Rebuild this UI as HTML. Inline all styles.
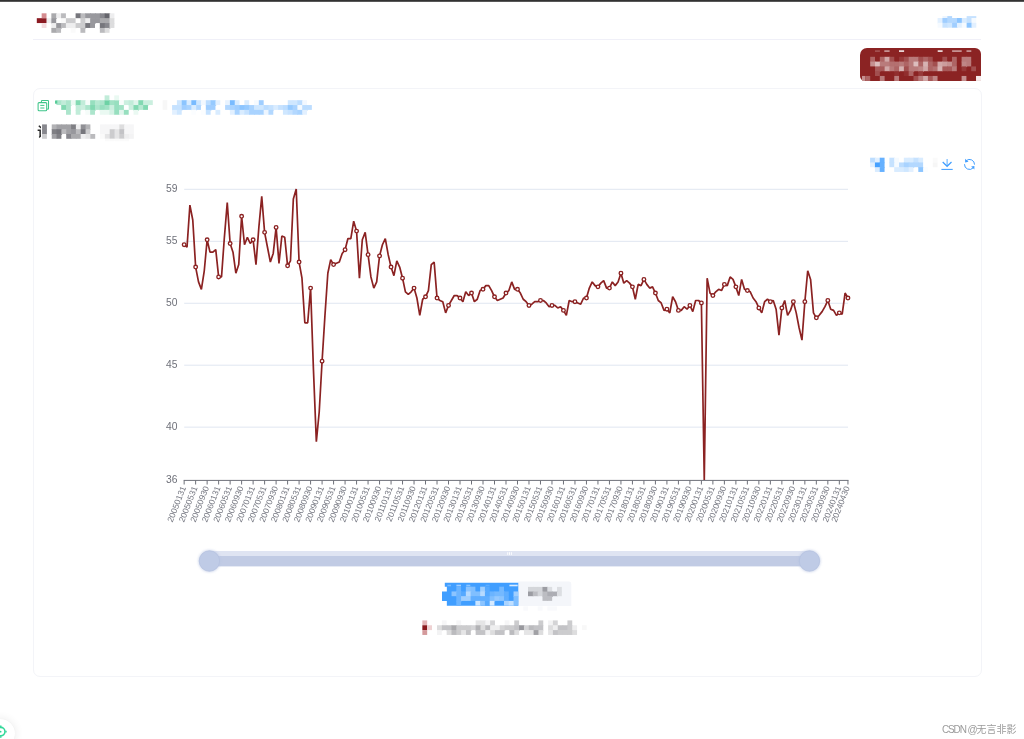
<!DOCTYPE html>
<html lang="zh-CN">
<head>
<meta charset="utf-8">
<title>指标详情</title>
<style>
html,body{margin:0;padding:0;background:#fff;}
body{width:1024px;height:739px;position:relative;overflow:hidden;font-family:"Liberation Sans","Noto Sans CJK SC",sans-serif;}
.hdrline{position:absolute;left:33px;top:39px;width:948px;height:1px;background:#f0f0f8;}
.redbtn{position:absolute;left:860.4px;top:47.6px;width:120.6px;height:33.3px;background:#8b2323;border-radius:7px 6px 0 5px;}
.card{position:absolute;left:33px;top:88px;width:947px;height:587px;border:1px solid #f3f4f8;border-radius:7px;box-sizing:content-box;}
.chart{position:absolute;left:0;top:0;}
.yl{font-family:"Liberation Sans",sans-serif;font-size:10.3px;fill:#6e7079;}
.xl{font-family:"Liberation Sans",sans-serif;font-size:8.5px;fill:#767882;}

.topbar{position:absolute;left:0;top:0;width:1024px;height:2px;background:linear-gradient(#2c2c2c 0,#3a3a3a 60%,#8a8a8a 100%);}
.xiang{position:absolute;left:37.2px;top:124px;width:3.4px;height:16px;overflow:hidden;font-size:13px;line-height:16px;font-weight:bold;color:#2a2a2a;white-space:nowrap;}
.fab{position:absolute;left:-14.5px;top:718.6px;width:29.6px;height:29.6px;border-radius:50%;background:#fff;box-shadow:0 0 8px 1px rgba(0,0,0,.07),0 0 1px rgba(0,0,0,.06);}
.wm{position:absolute;right:7.6px;top:724.2px;font-size:10px;line-height:12px;color:#9b9b9b;white-space:nowrap;text-shadow:0 0 1px #fff;}
.wm b{font-weight:normal;font-size:10px;letter-spacing:-1.15px;}
</style>
</head>
<body>
<div class="topbar"></div>
<div class="hdrline"></div>
<div class="redbtn"></div>
<div class="card"></div>
<svg class="chart" width="1024" height="739" viewBox="0 0 1024 739">
<line x1="184.2" x2="848.0" y1="189.30" y2="189.30" stroke="#e0e6f1" stroke-width="1"/>
<line x1="184.2" x2="848.0" y1="241.33" y2="241.33" stroke="#e0e6f1" stroke-width="1"/>
<line x1="184.2" x2="848.0" y1="303.26" y2="303.26" stroke="#e0e6f1" stroke-width="1"/>
<line x1="184.2" x2="848.0" y1="365.20" y2="365.20" stroke="#e0e6f1" stroke-width="1"/>
<line x1="184.2" x2="848.0" y1="427.13" y2="427.13" stroke="#e0e6f1" stroke-width="1"/>
<text x="177.5" y="192.00" text-anchor="end" class="yl">59</text>
<text x="177.5" y="244.03" text-anchor="end" class="yl">55</text>
<text x="177.5" y="305.96" text-anchor="end" class="yl">50</text>
<text x="177.5" y="367.90" text-anchor="end" class="yl">45</text>
<text x="177.5" y="429.83" text-anchor="end" class="yl">40</text>
<text x="177.5" y="483.10" text-anchor="end" class="yl">36</text>
<line x1="183.7" x2="848.5" y1="480.40" y2="480.40" stroke="#6e7079" stroke-width="1"/>
<line x1="184.15" x2="184.15" y1="480.40" y2="484.50" stroke="#6e7079" stroke-width="1"/>
<line x1="195.64" x2="195.64" y1="480.40" y2="484.50" stroke="#6e7079" stroke-width="1"/>
<line x1="207.14" x2="207.14" y1="480.40" y2="484.50" stroke="#6e7079" stroke-width="1"/>
<line x1="218.63" x2="218.63" y1="480.40" y2="484.50" stroke="#6e7079" stroke-width="1"/>
<line x1="230.13" x2="230.13" y1="480.40" y2="484.50" stroke="#6e7079" stroke-width="1"/>
<line x1="241.62" x2="241.62" y1="480.40" y2="484.50" stroke="#6e7079" stroke-width="1"/>
<line x1="253.12" x2="253.12" y1="480.40" y2="484.50" stroke="#6e7079" stroke-width="1"/>
<line x1="264.61" x2="264.61" y1="480.40" y2="484.50" stroke="#6e7079" stroke-width="1"/>
<line x1="276.10" x2="276.10" y1="480.40" y2="484.50" stroke="#6e7079" stroke-width="1"/>
<line x1="287.60" x2="287.60" y1="480.40" y2="484.50" stroke="#6e7079" stroke-width="1"/>
<line x1="299.09" x2="299.09" y1="480.40" y2="484.50" stroke="#6e7079" stroke-width="1"/>
<line x1="310.59" x2="310.59" y1="480.40" y2="484.50" stroke="#6e7079" stroke-width="1"/>
<line x1="322.08" x2="322.08" y1="480.40" y2="484.50" stroke="#6e7079" stroke-width="1"/>
<line x1="333.58" x2="333.58" y1="480.40" y2="484.50" stroke="#6e7079" stroke-width="1"/>
<line x1="345.07" x2="345.07" y1="480.40" y2="484.50" stroke="#6e7079" stroke-width="1"/>
<line x1="356.57" x2="356.57" y1="480.40" y2="484.50" stroke="#6e7079" stroke-width="1"/>
<line x1="368.06" x2="368.06" y1="480.40" y2="484.50" stroke="#6e7079" stroke-width="1"/>
<line x1="379.55" x2="379.55" y1="480.40" y2="484.50" stroke="#6e7079" stroke-width="1"/>
<line x1="391.05" x2="391.05" y1="480.40" y2="484.50" stroke="#6e7079" stroke-width="1"/>
<line x1="402.54" x2="402.54" y1="480.40" y2="484.50" stroke="#6e7079" stroke-width="1"/>
<line x1="414.04" x2="414.04" y1="480.40" y2="484.50" stroke="#6e7079" stroke-width="1"/>
<line x1="425.53" x2="425.53" y1="480.40" y2="484.50" stroke="#6e7079" stroke-width="1"/>
<line x1="437.03" x2="437.03" y1="480.40" y2="484.50" stroke="#6e7079" stroke-width="1"/>
<line x1="448.52" x2="448.52" y1="480.40" y2="484.50" stroke="#6e7079" stroke-width="1"/>
<line x1="460.01" x2="460.01" y1="480.40" y2="484.50" stroke="#6e7079" stroke-width="1"/>
<line x1="471.51" x2="471.51" y1="480.40" y2="484.50" stroke="#6e7079" stroke-width="1"/>
<line x1="483.00" x2="483.00" y1="480.40" y2="484.50" stroke="#6e7079" stroke-width="1"/>
<line x1="494.50" x2="494.50" y1="480.40" y2="484.50" stroke="#6e7079" stroke-width="1"/>
<line x1="505.99" x2="505.99" y1="480.40" y2="484.50" stroke="#6e7079" stroke-width="1"/>
<line x1="517.49" x2="517.49" y1="480.40" y2="484.50" stroke="#6e7079" stroke-width="1"/>
<line x1="528.98" x2="528.98" y1="480.40" y2="484.50" stroke="#6e7079" stroke-width="1"/>
<line x1="540.48" x2="540.48" y1="480.40" y2="484.50" stroke="#6e7079" stroke-width="1"/>
<line x1="551.97" x2="551.97" y1="480.40" y2="484.50" stroke="#6e7079" stroke-width="1"/>
<line x1="563.46" x2="563.46" y1="480.40" y2="484.50" stroke="#6e7079" stroke-width="1"/>
<line x1="574.96" x2="574.96" y1="480.40" y2="484.50" stroke="#6e7079" stroke-width="1"/>
<line x1="586.45" x2="586.45" y1="480.40" y2="484.50" stroke="#6e7079" stroke-width="1"/>
<line x1="597.95" x2="597.95" y1="480.40" y2="484.50" stroke="#6e7079" stroke-width="1"/>
<line x1="609.44" x2="609.44" y1="480.40" y2="484.50" stroke="#6e7079" stroke-width="1"/>
<line x1="620.94" x2="620.94" y1="480.40" y2="484.50" stroke="#6e7079" stroke-width="1"/>
<line x1="632.43" x2="632.43" y1="480.40" y2="484.50" stroke="#6e7079" stroke-width="1"/>
<line x1="643.92" x2="643.92" y1="480.40" y2="484.50" stroke="#6e7079" stroke-width="1"/>
<line x1="655.42" x2="655.42" y1="480.40" y2="484.50" stroke="#6e7079" stroke-width="1"/>
<line x1="666.91" x2="666.91" y1="480.40" y2="484.50" stroke="#6e7079" stroke-width="1"/>
<line x1="678.41" x2="678.41" y1="480.40" y2="484.50" stroke="#6e7079" stroke-width="1"/>
<line x1="689.90" x2="689.90" y1="480.40" y2="484.50" stroke="#6e7079" stroke-width="1"/>
<line x1="701.40" x2="701.40" y1="480.40" y2="484.50" stroke="#6e7079" stroke-width="1"/>
<line x1="712.89" x2="712.89" y1="480.40" y2="484.50" stroke="#6e7079" stroke-width="1"/>
<line x1="724.39" x2="724.39" y1="480.40" y2="484.50" stroke="#6e7079" stroke-width="1"/>
<line x1="735.88" x2="735.88" y1="480.40" y2="484.50" stroke="#6e7079" stroke-width="1"/>
<line x1="747.37" x2="747.37" y1="480.40" y2="484.50" stroke="#6e7079" stroke-width="1"/>
<line x1="758.87" x2="758.87" y1="480.40" y2="484.50" stroke="#6e7079" stroke-width="1"/>
<line x1="770.36" x2="770.36" y1="480.40" y2="484.50" stroke="#6e7079" stroke-width="1"/>
<line x1="781.86" x2="781.86" y1="480.40" y2="484.50" stroke="#6e7079" stroke-width="1"/>
<line x1="793.35" x2="793.35" y1="480.40" y2="484.50" stroke="#6e7079" stroke-width="1"/>
<line x1="804.85" x2="804.85" y1="480.40" y2="484.50" stroke="#6e7079" stroke-width="1"/>
<line x1="816.34" x2="816.34" y1="480.40" y2="484.50" stroke="#6e7079" stroke-width="1"/>
<line x1="827.83" x2="827.83" y1="480.40" y2="484.50" stroke="#6e7079" stroke-width="1"/>
<line x1="839.33" x2="839.33" y1="480.40" y2="484.50" stroke="#6e7079" stroke-width="1"/>
<line x1="847.95" x2="847.95" y1="480.40" y2="484.50" stroke="#6e7079" stroke-width="1"/>
<text class="xl" text-anchor="end" transform="translate(183.35 486.40) rotate(-69)" x="0" y="3">20050131</text>
<text class="xl" text-anchor="end" transform="translate(194.84 486.40) rotate(-69)" x="0" y="3">20050531</text>
<text class="xl" text-anchor="end" transform="translate(206.34 486.40) rotate(-69)" x="0" y="3">20050930</text>
<text class="xl" text-anchor="end" transform="translate(217.83 486.40) rotate(-69)" x="0" y="3">20060131</text>
<text class="xl" text-anchor="end" transform="translate(229.33 486.40) rotate(-69)" x="0" y="3">20060531</text>
<text class="xl" text-anchor="end" transform="translate(240.82 486.40) rotate(-69)" x="0" y="3">20060930</text>
<text class="xl" text-anchor="end" transform="translate(252.32 486.40) rotate(-69)" x="0" y="3">20070131</text>
<text class="xl" text-anchor="end" transform="translate(263.81 486.40) rotate(-69)" x="0" y="3">20070531</text>
<text class="xl" text-anchor="end" transform="translate(275.30 486.40) rotate(-69)" x="0" y="3">20070930</text>
<text class="xl" text-anchor="end" transform="translate(286.80 486.40) rotate(-69)" x="0" y="3">20080131</text>
<text class="xl" text-anchor="end" transform="translate(298.29 486.40) rotate(-69)" x="0" y="3">20080531</text>
<text class="xl" text-anchor="end" transform="translate(309.79 486.40) rotate(-69)" x="0" y="3">20080930</text>
<text class="xl" text-anchor="end" transform="translate(321.28 486.40) rotate(-69)" x="0" y="3">20090131</text>
<text class="xl" text-anchor="end" transform="translate(332.78 486.40) rotate(-69)" x="0" y="3">20090531</text>
<text class="xl" text-anchor="end" transform="translate(344.27 486.40) rotate(-69)" x="0" y="3">20090930</text>
<text class="xl" text-anchor="end" transform="translate(355.77 486.40) rotate(-69)" x="0" y="3">20100131</text>
<text class="xl" text-anchor="end" transform="translate(367.26 486.40) rotate(-69)" x="0" y="3">20100531</text>
<text class="xl" text-anchor="end" transform="translate(378.75 486.40) rotate(-69)" x="0" y="3">20100930</text>
<text class="xl" text-anchor="end" transform="translate(390.25 486.40) rotate(-69)" x="0" y="3">20110131</text>
<text class="xl" text-anchor="end" transform="translate(401.74 486.40) rotate(-69)" x="0" y="3">20110531</text>
<text class="xl" text-anchor="end" transform="translate(413.24 486.40) rotate(-69)" x="0" y="3">20110930</text>
<text class="xl" text-anchor="end" transform="translate(424.73 486.40) rotate(-69)" x="0" y="3">20120131</text>
<text class="xl" text-anchor="end" transform="translate(436.23 486.40) rotate(-69)" x="0" y="3">20120531</text>
<text class="xl" text-anchor="end" transform="translate(447.72 486.40) rotate(-69)" x="0" y="3">20120930</text>
<text class="xl" text-anchor="end" transform="translate(459.21 486.40) rotate(-69)" x="0" y="3">20130131</text>
<text class="xl" text-anchor="end" transform="translate(470.71 486.40) rotate(-69)" x="0" y="3">20130531</text>
<text class="xl" text-anchor="end" transform="translate(482.20 486.40) rotate(-69)" x="0" y="3">20130930</text>
<text class="xl" text-anchor="end" transform="translate(493.70 486.40) rotate(-69)" x="0" y="3">20140131</text>
<text class="xl" text-anchor="end" transform="translate(505.19 486.40) rotate(-69)" x="0" y="3">20140531</text>
<text class="xl" text-anchor="end" transform="translate(516.69 486.40) rotate(-69)" x="0" y="3">20140930</text>
<text class="xl" text-anchor="end" transform="translate(528.18 486.40) rotate(-69)" x="0" y="3">20150131</text>
<text class="xl" text-anchor="end" transform="translate(539.68 486.40) rotate(-69)" x="0" y="3">20150531</text>
<text class="xl" text-anchor="end" transform="translate(551.17 486.40) rotate(-69)" x="0" y="3">20150930</text>
<text class="xl" text-anchor="end" transform="translate(562.66 486.40) rotate(-69)" x="0" y="3">20160131</text>
<text class="xl" text-anchor="end" transform="translate(574.16 486.40) rotate(-69)" x="0" y="3">20160531</text>
<text class="xl" text-anchor="end" transform="translate(585.65 486.40) rotate(-69)" x="0" y="3">20160930</text>
<text class="xl" text-anchor="end" transform="translate(597.15 486.40) rotate(-69)" x="0" y="3">20170131</text>
<text class="xl" text-anchor="end" transform="translate(608.64 486.40) rotate(-69)" x="0" y="3">20170531</text>
<text class="xl" text-anchor="end" transform="translate(620.14 486.40) rotate(-69)" x="0" y="3">20170930</text>
<text class="xl" text-anchor="end" transform="translate(631.63 486.40) rotate(-69)" x="0" y="3">20180131</text>
<text class="xl" text-anchor="end" transform="translate(643.12 486.40) rotate(-69)" x="0" y="3">20180531</text>
<text class="xl" text-anchor="end" transform="translate(654.62 486.40) rotate(-69)" x="0" y="3">20180930</text>
<text class="xl" text-anchor="end" transform="translate(666.11 486.40) rotate(-69)" x="0" y="3">20190131</text>
<text class="xl" text-anchor="end" transform="translate(677.61 486.40) rotate(-69)" x="0" y="3">20190531</text>
<text class="xl" text-anchor="end" transform="translate(689.10 486.40) rotate(-69)" x="0" y="3">20190930</text>
<text class="xl" text-anchor="end" transform="translate(700.60 486.40) rotate(-69)" x="0" y="3">20200131</text>
<text class="xl" text-anchor="end" transform="translate(712.09 486.40) rotate(-69)" x="0" y="3">20200531</text>
<text class="xl" text-anchor="end" transform="translate(723.59 486.40) rotate(-69)" x="0" y="3">20200930</text>
<text class="xl" text-anchor="end" transform="translate(735.08 486.40) rotate(-69)" x="0" y="3">20210131</text>
<text class="xl" text-anchor="end" transform="translate(746.57 486.40) rotate(-69)" x="0" y="3">20210531</text>
<text class="xl" text-anchor="end" transform="translate(758.07 486.40) rotate(-69)" x="0" y="3">20210930</text>
<text class="xl" text-anchor="end" transform="translate(769.56 486.40) rotate(-69)" x="0" y="3">20220131</text>
<text class="xl" text-anchor="end" transform="translate(781.06 486.40) rotate(-69)" x="0" y="3">20220531</text>
<text class="xl" text-anchor="end" transform="translate(792.55 486.40) rotate(-69)" x="0" y="3">20220930</text>
<text class="xl" text-anchor="end" transform="translate(804.05 486.40) rotate(-69)" x="0" y="3">20230131</text>
<text class="xl" text-anchor="end" transform="translate(815.54 486.40) rotate(-69)" x="0" y="3">20230531</text>
<text class="xl" text-anchor="end" transform="translate(827.03 486.40) rotate(-69)" x="0" y="3">20230930</text>
<text class="xl" text-anchor="end" transform="translate(838.53 486.40) rotate(-69)" x="0" y="3">20240131</text>
<text class="xl" text-anchor="end" transform="translate(847.15 486.40) rotate(-69)" x="0" y="3">20240430</text>
<clipPath id="cp"><rect x="181.2" y="185.3" width="669.8" height="295.1"/></clipPath>
<polyline clip-path="url(#cp)" points="184.15,245.04 187.02,247.52 189.90,205.40 192.77,220.27 195.64,267.34 198.52,282.20 201.39,289.64 204.27,271.06 207.14,240.09 210.01,252.47 212.89,252.47 215.76,250.00 218.63,277.25 221.51,277.25 224.38,237.61 227.25,202.93 230.13,243.80 233.00,252.47 235.87,273.53 238.75,264.86 241.62,216.55 244.50,245.04 247.37,237.61 250.24,243.80 253.12,240.09 255.99,264.86 258.86,227.70 261.74,196.73 264.61,232.66 267.48,247.52 270.36,262.38 273.23,253.71 276.10,227.70 278.98,263.62 281.85,236.37 284.73,237.61 287.60,266.10 290.47,261.15 293.35,199.21 296.22,189.30 299.09,262.38 301.97,278.49 304.84,323.08 307.71,323.08 310.59,288.40 313.46,370.15 316.34,442.00 319.21,412.27 322.08,361.48 324.96,315.65 327.83,273.53 330.70,259.91 333.58,264.86 336.45,263.62 339.32,262.38 342.20,253.71 345.07,250.00 347.94,238.85 350.82,238.85 353.69,221.51 356.57,231.42 359.44,278.49 362.31,240.09 365.19,232.66 368.06,254.95 370.93,277.25 373.81,288.40 376.68,282.20 379.55,256.19 382.43,245.04 385.30,238.85 388.18,254.95 391.05,267.34 393.92,276.01 396.80,261.15 399.67,267.34 402.54,278.49 405.42,292.11 408.29,294.59 411.16,292.11 414.04,288.40 416.91,298.31 419.78,315.65 422.66,299.55 425.53,297.07 428.41,290.88 431.28,264.86 434.15,262.38 437.03,298.31 439.90,300.79 442.77,302.02 445.65,313.17 448.52,305.74 451.39,300.79 454.27,295.83 457.14,295.83 460.01,298.31 462.89,302.02 465.76,292.11 468.64,295.83 471.51,293.35 474.38,302.02 477.26,299.55 480.13,290.88 483.00,289.64 485.88,285.92 488.75,285.92 491.62,290.88 494.50,297.07 497.37,300.79 500.25,299.55 503.12,298.31 505.99,293.35 508.87,290.88 511.74,282.20 514.61,289.64 517.49,289.64 520.36,293.35 523.23,299.55 526.11,302.02 528.98,305.74 531.85,304.50 534.73,302.02 537.60,302.02 540.48,300.79 543.35,300.79 546.22,303.26 549.10,306.98 551.97,305.74 554.84,305.74 557.72,308.22 560.59,306.98 563.46,310.69 566.34,315.65 569.21,300.79 572.09,302.02 574.96,302.02 577.83,303.26 580.71,304.50 583.58,298.31 586.45,298.31 589.33,288.40 592.20,282.20 595.07,285.92 597.95,287.16 600.82,283.44 603.69,280.97 606.57,288.40 609.44,288.40 612.32,282.20 615.19,285.92 618.06,282.20 620.94,273.53 623.81,283.44 626.68,280.97 629.56,283.44 632.43,287.16 635.30,299.55 638.18,284.68 641.05,285.92 643.92,279.73 646.80,284.68 649.67,288.40 652.55,287.16 655.42,293.35 658.29,300.79 661.17,303.26 664.04,310.69 666.91,309.46 669.79,313.17 672.66,297.07 675.53,302.02 678.41,310.69 681.28,310.69 684.16,306.98 687.03,309.46 689.90,305.74 692.78,311.93 695.65,300.79 698.52,300.79 701.40,303.26 704.27,480.40 707.14,278.49 710.02,293.35 712.89,295.83 715.76,292.11 718.64,289.64 721.51,290.88 724.39,284.68 727.26,285.92 730.13,277.25 733.01,279.73 735.88,287.16 738.75,295.83 741.63,279.73 744.50,289.64 747.37,290.88 750.25,292.11 753.12,298.31 756.00,302.02 758.87,308.22 761.74,313.17 764.62,302.02 767.49,299.55 770.36,302.02 773.24,300.79 776.11,309.46 778.98,335.47 781.86,308.22 784.73,300.79 787.60,315.65 790.48,310.69 793.35,302.02 796.23,313.17 799.10,328.04 801.97,340.42 804.85,302.02 807.72,271.06 810.59,279.73 813.47,313.17 816.34,318.13 819.21,315.65 822.09,311.93 824.96,306.98 827.83,300.79 830.71,309.46 833.58,310.69 836.46,315.65 839.33,313.17 842.20,314.41 845.08,293.35 847.95,298.31" fill="none" stroke="#8b2222" stroke-width="1.7" stroke-linejoin="bevel" transform="translate(0 -0.3)"/>
<circle cx="184.15" cy="245.04" r="1.8" fill="#fff" stroke="#8b2222" stroke-width="1.35" transform="translate(0 -0.3)"/>
<circle cx="195.64" cy="267.34" r="1.8" fill="#fff" stroke="#8b2222" stroke-width="1.35" transform="translate(0 -0.3)"/>
<circle cx="207.14" cy="240.09" r="1.8" fill="#fff" stroke="#8b2222" stroke-width="1.35" transform="translate(0 -0.3)"/>
<circle cx="218.63" cy="277.25" r="1.8" fill="#fff" stroke="#8b2222" stroke-width="1.35" transform="translate(0 -0.3)"/>
<circle cx="230.13" cy="243.80" r="1.8" fill="#fff" stroke="#8b2222" stroke-width="1.35" transform="translate(0 -0.3)"/>
<circle cx="241.62" cy="216.55" r="1.8" fill="#fff" stroke="#8b2222" stroke-width="1.35" transform="translate(0 -0.3)"/>
<circle cx="253.12" cy="240.09" r="1.8" fill="#fff" stroke="#8b2222" stroke-width="1.35" transform="translate(0 -0.3)"/>
<circle cx="264.61" cy="232.66" r="1.8" fill="#fff" stroke="#8b2222" stroke-width="1.35" transform="translate(0 -0.3)"/>
<circle cx="276.10" cy="227.70" r="1.8" fill="#fff" stroke="#8b2222" stroke-width="1.35" transform="translate(0 -0.3)"/>
<circle cx="287.60" cy="266.10" r="1.8" fill="#fff" stroke="#8b2222" stroke-width="1.35" transform="translate(0 -0.3)"/>
<circle cx="299.09" cy="262.38" r="1.8" fill="#fff" stroke="#8b2222" stroke-width="1.35" transform="translate(0 -0.3)"/>
<circle cx="310.59" cy="288.40" r="1.8" fill="#fff" stroke="#8b2222" stroke-width="1.35" transform="translate(0 -0.3)"/>
<circle cx="322.08" cy="361.48" r="1.8" fill="#fff" stroke="#8b2222" stroke-width="1.35" transform="translate(0 -0.3)"/>
<circle cx="333.58" cy="264.86" r="1.8" fill="#fff" stroke="#8b2222" stroke-width="1.35" transform="translate(0 -0.3)"/>
<circle cx="345.07" cy="250.00" r="1.8" fill="#fff" stroke="#8b2222" stroke-width="1.35" transform="translate(0 -0.3)"/>
<circle cx="356.57" cy="231.42" r="1.8" fill="#fff" stroke="#8b2222" stroke-width="1.35" transform="translate(0 -0.3)"/>
<circle cx="368.06" cy="254.95" r="1.8" fill="#fff" stroke="#8b2222" stroke-width="1.35" transform="translate(0 -0.3)"/>
<circle cx="379.55" cy="256.19" r="1.8" fill="#fff" stroke="#8b2222" stroke-width="1.35" transform="translate(0 -0.3)"/>
<circle cx="391.05" cy="267.34" r="1.8" fill="#fff" stroke="#8b2222" stroke-width="1.35" transform="translate(0 -0.3)"/>
<circle cx="402.54" cy="278.49" r="1.8" fill="#fff" stroke="#8b2222" stroke-width="1.35" transform="translate(0 -0.3)"/>
<circle cx="414.04" cy="288.40" r="1.8" fill="#fff" stroke="#8b2222" stroke-width="1.35" transform="translate(0 -0.3)"/>
<circle cx="425.53" cy="297.07" r="1.8" fill="#fff" stroke="#8b2222" stroke-width="1.35" transform="translate(0 -0.3)"/>
<circle cx="437.03" cy="298.31" r="1.8" fill="#fff" stroke="#8b2222" stroke-width="1.35" transform="translate(0 -0.3)"/>
<circle cx="448.52" cy="305.74" r="1.8" fill="#fff" stroke="#8b2222" stroke-width="1.35" transform="translate(0 -0.3)"/>
<circle cx="460.01" cy="298.31" r="1.8" fill="#fff" stroke="#8b2222" stroke-width="1.35" transform="translate(0 -0.3)"/>
<circle cx="471.51" cy="293.35" r="1.8" fill="#fff" stroke="#8b2222" stroke-width="1.35" transform="translate(0 -0.3)"/>
<circle cx="483.00" cy="289.64" r="1.8" fill="#fff" stroke="#8b2222" stroke-width="1.35" transform="translate(0 -0.3)"/>
<circle cx="494.50" cy="297.07" r="1.8" fill="#fff" stroke="#8b2222" stroke-width="1.35" transform="translate(0 -0.3)"/>
<circle cx="505.99" cy="293.35" r="1.8" fill="#fff" stroke="#8b2222" stroke-width="1.35" transform="translate(0 -0.3)"/>
<circle cx="517.49" cy="289.64" r="1.8" fill="#fff" stroke="#8b2222" stroke-width="1.35" transform="translate(0 -0.3)"/>
<circle cx="528.98" cy="305.74" r="1.8" fill="#fff" stroke="#8b2222" stroke-width="1.35" transform="translate(0 -0.3)"/>
<circle cx="540.48" cy="300.79" r="1.8" fill="#fff" stroke="#8b2222" stroke-width="1.35" transform="translate(0 -0.3)"/>
<circle cx="551.97" cy="305.74" r="1.8" fill="#fff" stroke="#8b2222" stroke-width="1.35" transform="translate(0 -0.3)"/>
<circle cx="563.46" cy="310.69" r="1.8" fill="#fff" stroke="#8b2222" stroke-width="1.35" transform="translate(0 -0.3)"/>
<circle cx="574.96" cy="302.02" r="1.8" fill="#fff" stroke="#8b2222" stroke-width="1.35" transform="translate(0 -0.3)"/>
<circle cx="586.45" cy="298.31" r="1.8" fill="#fff" stroke="#8b2222" stroke-width="1.35" transform="translate(0 -0.3)"/>
<circle cx="597.95" cy="287.16" r="1.8" fill="#fff" stroke="#8b2222" stroke-width="1.35" transform="translate(0 -0.3)"/>
<circle cx="609.44" cy="288.40" r="1.8" fill="#fff" stroke="#8b2222" stroke-width="1.35" transform="translate(0 -0.3)"/>
<circle cx="620.94" cy="273.53" r="1.8" fill="#fff" stroke="#8b2222" stroke-width="1.35" transform="translate(0 -0.3)"/>
<circle cx="632.43" cy="287.16" r="1.8" fill="#fff" stroke="#8b2222" stroke-width="1.35" transform="translate(0 -0.3)"/>
<circle cx="643.92" cy="279.73" r="1.8" fill="#fff" stroke="#8b2222" stroke-width="1.35" transform="translate(0 -0.3)"/>
<circle cx="655.42" cy="293.35" r="1.8" fill="#fff" stroke="#8b2222" stroke-width="1.35" transform="translate(0 -0.3)"/>
<circle cx="666.91" cy="309.46" r="1.8" fill="#fff" stroke="#8b2222" stroke-width="1.35" transform="translate(0 -0.3)"/>
<circle cx="678.41" cy="310.69" r="1.8" fill="#fff" stroke="#8b2222" stroke-width="1.35" transform="translate(0 -0.3)"/>
<circle cx="689.90" cy="305.74" r="1.8" fill="#fff" stroke="#8b2222" stroke-width="1.35" transform="translate(0 -0.3)"/>
<circle cx="701.40" cy="303.26" r="1.8" fill="#fff" stroke="#8b2222" stroke-width="1.35" transform="translate(0 -0.3)"/>
<circle cx="712.89" cy="295.83" r="1.8" fill="#fff" stroke="#8b2222" stroke-width="1.35" transform="translate(0 -0.3)"/>
<circle cx="724.39" cy="284.68" r="1.8" fill="#fff" stroke="#8b2222" stroke-width="1.35" transform="translate(0 -0.3)"/>
<circle cx="735.88" cy="287.16" r="1.8" fill="#fff" stroke="#8b2222" stroke-width="1.35" transform="translate(0 -0.3)"/>
<circle cx="747.37" cy="290.88" r="1.8" fill="#fff" stroke="#8b2222" stroke-width="1.35" transform="translate(0 -0.3)"/>
<circle cx="758.87" cy="308.22" r="1.8" fill="#fff" stroke="#8b2222" stroke-width="1.35" transform="translate(0 -0.3)"/>
<circle cx="770.36" cy="302.02" r="1.8" fill="#fff" stroke="#8b2222" stroke-width="1.35" transform="translate(0 -0.3)"/>
<circle cx="781.86" cy="308.22" r="1.8" fill="#fff" stroke="#8b2222" stroke-width="1.35" transform="translate(0 -0.3)"/>
<circle cx="793.35" cy="302.02" r="1.8" fill="#fff" stroke="#8b2222" stroke-width="1.35" transform="translate(0 -0.3)"/>
<circle cx="804.85" cy="302.02" r="1.8" fill="#fff" stroke="#8b2222" stroke-width="1.35" transform="translate(0 -0.3)"/>
<circle cx="816.34" cy="318.13" r="1.8" fill="#fff" stroke="#8b2222" stroke-width="1.35" transform="translate(0 -0.3)"/>
<circle cx="827.83" cy="300.79" r="1.8" fill="#fff" stroke="#8b2222" stroke-width="1.35" transform="translate(0 -0.3)"/>
<circle cx="839.33" cy="313.17" r="1.8" fill="#fff" stroke="#8b2222" stroke-width="1.35" transform="translate(0 -0.3)"/>
<circle cx="847.95" cy="298.31" r="1.8" fill="#fff" stroke="#8b2222" stroke-width="1.35" transform="translate(0 -0.3)"/>
</svg>
<svg class="chart" width="1024" height="739" viewBox="0 0 1024 739">
<rect x="51.35" y="13.30" width="5.55" height="5.58" fill="#aaaaad"/>
<rect x="56.20" y="13.30" width="5.55" height="4.88" fill="#eeeeef"/>
<rect x="61.05" y="13.30" width="4.85" height="5.58" fill="#bbbbbe"/>
<rect x="75.60" y="13.30" width="5.55" height="4.88" fill="#76767c"/>
<rect x="80.45" y="13.30" width="5.55" height="5.58" fill="#bbbbbe"/>
<rect x="85.30" y="13.30" width="5.55" height="5.58" fill="#98989d"/>
<rect x="90.15" y="13.30" width="5.55" height="5.58" fill="#98989d"/>
<rect x="95.00" y="13.30" width="5.55" height="5.58" fill="#98989d"/>
<rect x="99.85" y="13.30" width="5.55" height="5.58" fill="#87878d"/>
<rect x="104.70" y="13.30" width="5.55" height="5.58" fill="#65656c"/>
<rect x="109.55" y="13.30" width="4.85" height="5.58" fill="#eeeeef"/>
<rect x="46.50" y="18.18" width="5.55" height="4.88" fill="#eeeeef"/>
<rect x="51.35" y="18.18" width="4.85" height="5.58" fill="#98989d"/>
<rect x="61.05" y="18.18" width="5.55" height="5.58" fill="#fafafa"/>
<rect x="65.90" y="18.18" width="5.55" height="5.58" fill="#ccccce"/>
<rect x="70.75" y="18.18" width="4.85" height="5.58" fill="#ccccce"/>
<rect x="80.45" y="18.18" width="5.55" height="5.58" fill="#ccccce"/>
<rect x="85.30" y="18.18" width="5.55" height="5.58" fill="#eeeeef"/>
<rect x="90.15" y="18.18" width="5.55" height="5.58" fill="#98989d"/>
<rect x="95.00" y="18.18" width="5.55" height="4.88" fill="#98989d"/>
<rect x="99.85" y="18.18" width="5.55" height="5.58" fill="#aaaaad"/>
<rect x="104.70" y="18.18" width="5.55" height="5.58" fill="#aaaaad"/>
<rect x="109.55" y="18.18" width="4.85" height="5.58" fill="#ddddde"/>
<rect x="51.35" y="23.06" width="5.55" height="5.58" fill="#eeeeef"/>
<rect x="56.20" y="23.06" width="5.55" height="5.58" fill="#98989d"/>
<rect x="61.05" y="23.06" width="5.55" height="4.88" fill="#bbbbbe"/>
<rect x="65.90" y="23.06" width="5.55" height="4.88" fill="#eeeeef"/>
<rect x="70.75" y="23.06" width="5.55" height="5.58" fill="#eeeeef"/>
<rect x="75.60" y="23.06" width="5.55" height="4.88" fill="#ccccce"/>
<rect x="80.45" y="23.06" width="5.55" height="5.58" fill="#ccccce"/>
<rect x="85.30" y="23.06" width="5.55" height="4.88" fill="#76767c"/>
<rect x="90.15" y="23.06" width="4.85" height="4.88" fill="#98989d"/>
<rect x="99.85" y="23.06" width="5.55" height="5.58" fill="#76767c"/>
<rect x="104.70" y="23.06" width="5.55" height="5.58" fill="#87878d"/>
<rect x="109.55" y="23.06" width="4.85" height="4.88" fill="#ddddde"/>
<rect x="51.35" y="27.94" width="5.55" height="4.88" fill="#aaaaad"/>
<rect x="56.20" y="27.94" width="4.85" height="4.88" fill="#bbbbbe"/>
<rect x="70.75" y="27.94" width="4.85" height="4.88" fill="#fafafa"/>
<rect x="80.45" y="27.94" width="4.85" height="4.88" fill="#bbbbbe"/>
<rect x="99.85" y="27.94" width="5.55" height="4.88" fill="#bbbbbe"/>
<rect x="104.70" y="27.94" width="4.85" height="4.88" fill="#ddddde"/>
<rect x="36.80" y="18.18" width="9.70" height="4.88" fill="#8b1a22"/>
<rect x="41.65" y="13.30" width="4.85" height="4.88" fill="#d48c90"/>
<rect x="41.65" y="23.06" width="4.85" height="4.88" fill="#f3dcdf"/>
<rect x="942.44" y="16.10" width="4.84" height="1.90" fill="#ecf5ff"/>
<rect x="947.28" y="16.10" width="4.84" height="1.90" fill="#b3d8ff"/>
<rect x="966.64" y="16.10" width="9.68" height="1.90" fill="#c6e2ff"/>
<rect x="937.60" y="18.00" width="5.54" height="5.55" fill="#e2f0ff"/>
<rect x="942.44" y="18.00" width="5.54" height="5.55" fill="#a0ceff"/>
<rect x="947.28" y="18.00" width="5.54" height="5.55" fill="#b3d8ff"/>
<rect x="952.12" y="18.00" width="5.54" height="5.55" fill="#b3d8ff"/>
<rect x="956.96" y="18.00" width="5.54" height="5.55" fill="#8cc5ff"/>
<rect x="961.80" y="18.00" width="5.54" height="5.55" fill="#d9ecff"/>
<rect x="966.64" y="18.00" width="5.54" height="5.55" fill="#c6e2ff"/>
<rect x="971.48" y="18.00" width="4.84" height="5.55" fill="#f5faff"/>
<rect x="937.60" y="22.85" width="5.54" height="4.85" fill="#f5faff"/>
<rect x="942.44" y="22.85" width="5.54" height="4.85" fill="#c6e2ff"/>
<rect x="947.28" y="22.85" width="5.54" height="4.85" fill="#cfe7ff"/>
<rect x="952.12" y="22.85" width="5.54" height="4.85" fill="#a0ceff"/>
<rect x="956.96" y="22.85" width="5.54" height="4.85" fill="#e2f0ff"/>
<rect x="961.80" y="22.85" width="5.54" height="4.85" fill="#f5faff"/>
<rect x="966.64" y="22.85" width="5.54" height="4.85" fill="#8cc5ff"/>
<rect x="971.48" y="22.85" width="4.84" height="4.85" fill="#e2f0ff"/>
<rect x="870.20" y="56.80" width="4.81" height="5.50" fill="#ae6565"/>
<rect x="879.82" y="56.80" width="5.51" height="5.50" fill="#ae6565"/>
<rect x="884.63" y="56.80" width="5.51" height="5.50" fill="#d1a7a7"/>
<rect x="889.44" y="56.80" width="4.81" height="5.50" fill="#a24f4f"/>
<rect x="899.06" y="56.80" width="5.51" height="5.50" fill="#973939"/>
<rect x="903.87" y="56.80" width="5.51" height="5.50" fill="#a24f4f"/>
<rect x="908.68" y="56.80" width="5.51" height="5.50" fill="#b97b7b"/>
<rect x="913.49" y="56.80" width="5.51" height="5.50" fill="#b97b7b"/>
<rect x="918.30" y="56.80" width="5.51" height="5.50" fill="#a24f4f"/>
<rect x="923.11" y="56.80" width="5.51" height="5.50" fill="#ae6565"/>
<rect x="927.92" y="56.80" width="4.81" height="5.50" fill="#a24f4f"/>
<rect x="942.35" y="56.80" width="4.81" height="5.50" fill="#a24f4f"/>
<rect x="951.97" y="56.80" width="4.81" height="5.50" fill="#ae6565"/>
<rect x="961.59" y="56.80" width="5.51" height="5.50" fill="#b97b7b"/>
<rect x="966.40" y="56.80" width="4.81" height="5.50" fill="#b97b7b"/>
<rect x="870.20" y="61.60" width="5.51" height="4.80" fill="#c59191"/>
<rect x="875.01" y="61.60" width="5.51" height="5.50" fill="#dcbdbd"/>
<rect x="879.82" y="61.60" width="5.51" height="5.50" fill="#b97b7b"/>
<rect x="884.63" y="61.60" width="5.51" height="5.50" fill="#b97b7b"/>
<rect x="889.44" y="61.60" width="5.51" height="5.50" fill="#b47070"/>
<rect x="894.25" y="61.60" width="5.51" height="5.50" fill="#b47070"/>
<rect x="899.06" y="61.60" width="5.51" height="5.50" fill="#b97b7b"/>
<rect x="903.87" y="61.60" width="5.51" height="5.50" fill="#ae6565"/>
<rect x="908.68" y="61.60" width="5.51" height="5.50" fill="#b97b7b"/>
<rect x="913.49" y="61.60" width="5.51" height="5.50" fill="#dcbdbd"/>
<rect x="918.30" y="61.60" width="5.51" height="5.50" fill="#ae6565"/>
<rect x="923.11" y="61.60" width="5.51" height="5.50" fill="#d6b2b2"/>
<rect x="927.92" y="61.60" width="5.51" height="5.50" fill="#ae6565"/>
<rect x="932.73" y="61.60" width="5.51" height="5.50" fill="#a24f4f"/>
<rect x="937.54" y="61.60" width="5.51" height="5.50" fill="#d1a7a7"/>
<rect x="942.35" y="61.60" width="5.51" height="5.50" fill="#cb9c9c"/>
<rect x="947.16" y="61.60" width="5.51" height="5.50" fill="#c59191"/>
<rect x="951.97" y="61.60" width="4.81" height="5.50" fill="#ae6565"/>
<rect x="961.59" y="61.60" width="5.51" height="5.50" fill="#bf8686"/>
<rect x="966.40" y="61.60" width="4.81" height="4.80" fill="#b97b7b"/>
<rect x="875.01" y="66.40" width="5.51" height="5.50" fill="#a85a5a"/>
<rect x="879.82" y="66.40" width="5.51" height="4.80" fill="#a85a5a"/>
<rect x="884.63" y="66.40" width="5.51" height="4.80" fill="#d1a7a7"/>
<rect x="889.44" y="66.40" width="5.51" height="4.80" fill="#b97b7b"/>
<rect x="894.25" y="66.40" width="5.51" height="5.50" fill="#ae6565"/>
<rect x="899.06" y="66.40" width="5.51" height="4.80" fill="#d6b2b2"/>
<rect x="903.87" y="66.40" width="5.51" height="5.50" fill="#a24f4f"/>
<rect x="908.68" y="66.40" width="5.51" height="5.50" fill="#b97b7b"/>
<rect x="913.49" y="66.40" width="5.51" height="4.80" fill="#b97b7b"/>
<rect x="918.30" y="66.40" width="5.51" height="5.50" fill="#bf8686"/>
<rect x="923.11" y="66.40" width="5.51" height="4.80" fill="#d1a7a7"/>
<rect x="927.92" y="66.40" width="5.51" height="4.80" fill="#ae6565"/>
<rect x="932.73" y="66.40" width="5.51" height="4.80" fill="#b47070"/>
<rect x="937.54" y="66.40" width="5.51" height="4.80" fill="#d6b2b2"/>
<rect x="942.35" y="66.40" width="5.51" height="4.80" fill="#a85a5a"/>
<rect x="947.16" y="66.40" width="5.51" height="4.80" fill="#a85a5a"/>
<rect x="951.97" y="66.40" width="4.81" height="4.80" fill="#b97b7b"/>
<rect x="961.59" y="66.40" width="4.81" height="4.80" fill="#973939"/>
<rect x="971.21" y="66.40" width="4.81" height="4.80" fill="#a24f4f"/>
<rect x="875.01" y="71.20" width="4.81" height="4.80" fill="#a24f4f"/>
<rect x="894.25" y="71.20" width="4.81" height="4.80" fill="#912e2e"/>
<rect x="903.87" y="71.20" width="5.51" height="4.80" fill="#912e2e"/>
<rect x="908.68" y="71.20" width="4.81" height="4.80" fill="#ae6565"/>
<rect x="918.30" y="71.20" width="4.81" height="4.80" fill="#973939"/>
<rect x="862.00" y="75.95" width="3.39" height="5.00" fill="#c59191"/>
<rect x="865.39" y="75.95" width="4.81" height="5.00" fill="#ae6565"/>
<rect x="879.82" y="75.95" width="4.81" height="5.00" fill="#b97b7b"/>
<rect x="894.25" y="75.95" width="4.81" height="5.00" fill="#b97b7b"/>
<rect x="913.49" y="75.95" width="5.51" height="5.00" fill="#a24f4f"/>
<rect x="918.30" y="75.95" width="5.51" height="5.00" fill="#b97b7b"/>
<rect x="923.11" y="75.95" width="5.51" height="5.00" fill="#d1a7a7"/>
<rect x="927.92" y="75.95" width="5.51" height="5.00" fill="#a85a5a"/>
<rect x="932.73" y="75.95" width="4.81" height="5.00" fill="#bf8686"/>
<rect x="961.59" y="75.95" width="4.81" height="5.00" fill="#c59191"/>
<rect x="976.02" y="75.95" width="4.98" height="5.00" fill="#f6eaea"/>
<rect x="875.00" y="50.20" width="4.90" height="1.80" fill="#a24f4f"/>
<rect x="884.30" y="50.20" width="5.30" height="1.80" fill="#c59191"/>
<rect x="899.00" y="50.20" width="5.10" height="1.80" fill="#e8d3d3"/>
<rect x="937.70" y="50.20" width="4.90" height="1.80" fill="#e8d3d3"/>
<rect x="952.10" y="50.20" width="9.60" height="1.80" fill="#c59191"/>
<rect x="966.50" y="50.20" width="4.80" height="1.80" fill="#c59191"/>
<rect x="56.40" y="100.20" width="5.52" height="4.85" fill="#ace5cc"/>
<rect x="61.22" y="100.20" width="5.52" height="5.55" fill="#c1ecd9"/>
<rect x="66.04" y="100.20" width="5.52" height="5.55" fill="#ace5cc"/>
<rect x="70.86" y="100.20" width="5.52" height="4.85" fill="#eaf9f2"/>
<rect x="75.68" y="100.20" width="5.52" height="5.55" fill="#82d9b2"/>
<rect x="80.50" y="100.20" width="5.52" height="5.55" fill="#c1ecd9"/>
<rect x="85.32" y="100.20" width="5.52" height="5.55" fill="#f5fcf9"/>
<rect x="90.14" y="100.20" width="5.52" height="5.55" fill="#97dfbf"/>
<rect x="94.96" y="100.20" width="5.52" height="5.55" fill="#b6e9d2"/>
<rect x="99.78" y="100.20" width="5.52" height="5.55" fill="#ace5cc"/>
<rect x="104.60" y="100.20" width="5.52" height="5.55" fill="#6dd2a5"/>
<rect x="109.42" y="100.20" width="5.52" height="5.55" fill="#a1e2c5"/>
<rect x="114.24" y="100.20" width="5.52" height="5.55" fill="#97dfbf"/>
<rect x="119.06" y="100.20" width="5.52" height="5.55" fill="#f9fdfb"/>
<rect x="123.88" y="100.20" width="5.52" height="4.85" fill="#cbefdf"/>
<rect x="128.70" y="100.20" width="5.52" height="5.55" fill="#c1ecd9"/>
<rect x="133.52" y="100.20" width="5.52" height="5.55" fill="#e0f5ec"/>
<rect x="138.34" y="100.20" width="5.52" height="5.55" fill="#82d9b2"/>
<rect x="143.16" y="100.20" width="5.52" height="5.55" fill="#cbefdf"/>
<rect x="147.98" y="100.20" width="4.82" height="4.85" fill="#cbefdf"/>
<rect x="61.22" y="105.05" width="5.52" height="4.85" fill="#82d9b2"/>
<rect x="66.04" y="105.05" width="4.82" height="5.55" fill="#ace5cc"/>
<rect x="75.68" y="105.05" width="5.52" height="5.55" fill="#c1ecd9"/>
<rect x="80.50" y="105.05" width="5.52" height="4.85" fill="#cbefdf"/>
<rect x="85.32" y="105.05" width="5.52" height="5.55" fill="#ace5cc"/>
<rect x="90.14" y="105.05" width="5.52" height="5.55" fill="#82d9b2"/>
<rect x="94.96" y="105.05" width="5.52" height="4.85" fill="#ace5cc"/>
<rect x="99.78" y="105.05" width="5.52" height="5.55" fill="#97dfbf"/>
<rect x="104.60" y="105.05" width="5.52" height="5.55" fill="#a1e2c5"/>
<rect x="109.42" y="105.05" width="5.52" height="5.55" fill="#cbefdf"/>
<rect x="114.24" y="105.05" width="5.52" height="5.55" fill="#97dfbf"/>
<rect x="119.06" y="105.05" width="4.82" height="5.55" fill="#a1e2c5"/>
<rect x="128.70" y="105.05" width="5.52" height="4.85" fill="#cbefdf"/>
<rect x="133.52" y="105.05" width="5.52" height="5.55" fill="#82d9b2"/>
<rect x="138.34" y="105.05" width="5.52" height="4.85" fill="#b6e9d2"/>
<rect x="143.16" y="105.05" width="4.82" height="4.85" fill="#82d9b2"/>
<rect x="66.04" y="109.90" width="4.82" height="4.85" fill="#ace5cc"/>
<rect x="75.68" y="109.90" width="4.82" height="4.85" fill="#c1ecd9"/>
<rect x="85.32" y="109.90" width="5.52" height="4.85" fill="#f5fcf9"/>
<rect x="90.14" y="109.90" width="4.82" height="4.85" fill="#ace5cc"/>
<rect x="99.78" y="109.90" width="5.52" height="4.85" fill="#eaf9f2"/>
<rect x="104.60" y="109.90" width="5.52" height="4.85" fill="#eaf9f2"/>
<rect x="109.42" y="109.90" width="5.52" height="4.85" fill="#d5f2e5"/>
<rect x="114.24" y="109.90" width="5.52" height="4.85" fill="#97dfbf"/>
<rect x="119.06" y="109.90" width="5.52" height="4.85" fill="#e0f5ec"/>
<rect x="123.88" y="109.90" width="4.82" height="4.85" fill="#97dfbf"/>
<rect x="133.52" y="109.90" width="4.82" height="4.85" fill="#eaf9f2"/>
<rect x="104.60" y="95.35" width="4.82" height="4.85" fill="#c1ecd9"/>
<rect x="114.24" y="95.35" width="4.82" height="4.85" fill="#eaf9f2"/>
<rect x="55.00" y="100.50" width="2.30" height="3.20" fill="#59cc99"/>
<rect x="162.60" y="100.20" width="4.70" height="9.60" fill="#f7f7f7"/>
<rect x="176.90" y="100.20" width="5.52" height="5.55" fill="#cfe7ff"/>
<rect x="181.72" y="100.20" width="5.52" height="5.55" fill="#8cc5ff"/>
<rect x="186.54" y="100.20" width="5.52" height="5.55" fill="#d9ecff"/>
<rect x="191.36" y="100.20" width="5.52" height="5.55" fill="#79bbff"/>
<rect x="196.18" y="100.20" width="5.52" height="5.55" fill="#cfe7ff"/>
<rect x="201.00" y="100.20" width="5.52" height="4.85" fill="#f2f8ff"/>
<rect x="205.82" y="100.20" width="5.52" height="5.55" fill="#bcddff"/>
<rect x="210.64" y="100.20" width="5.52" height="5.55" fill="#96caff"/>
<rect x="215.46" y="100.20" width="4.82" height="4.85" fill="#e2f0ff"/>
<rect x="225.10" y="100.20" width="5.52" height="5.55" fill="#e8f3ff"/>
<rect x="229.92" y="100.20" width="5.52" height="5.55" fill="#79bbff"/>
<rect x="234.74" y="100.20" width="4.82" height="5.55" fill="#d9ecff"/>
<rect x="244.38" y="100.20" width="4.82" height="5.55" fill="#d9ecff"/>
<rect x="254.02" y="100.20" width="5.52" height="5.55" fill="#f5faff"/>
<rect x="258.84" y="100.20" width="4.82" height="5.55" fill="#a0ceff"/>
<rect x="287.76" y="100.20" width="5.52" height="5.55" fill="#cfe7ff"/>
<rect x="292.58" y="100.20" width="5.52" height="5.55" fill="#cfe7ff"/>
<rect x="297.40" y="100.20" width="5.52" height="5.55" fill="#bcddff"/>
<rect x="302.22" y="100.20" width="4.82" height="5.55" fill="#f2f8ff"/>
<rect x="172.08" y="105.05" width="5.52" height="5.55" fill="#c6e2ff"/>
<rect x="176.90" y="105.05" width="5.52" height="5.55" fill="#c6e2ff"/>
<rect x="181.72" y="105.05" width="5.52" height="4.85" fill="#a0ceff"/>
<rect x="186.54" y="105.05" width="5.52" height="4.85" fill="#a9d3ff"/>
<rect x="191.36" y="105.05" width="5.52" height="5.55" fill="#d9ecff"/>
<rect x="196.18" y="105.05" width="4.82" height="4.85" fill="#b3d8ff"/>
<rect x="205.82" y="105.05" width="5.52" height="5.55" fill="#a0ceff"/>
<rect x="210.64" y="105.05" width="4.82" height="4.85" fill="#a0ceff"/>
<rect x="225.10" y="105.05" width="5.52" height="4.85" fill="#b3d8ff"/>
<rect x="229.92" y="105.05" width="5.52" height="5.55" fill="#a9d3ff"/>
<rect x="234.74" y="105.05" width="5.52" height="5.55" fill="#a0ceff"/>
<rect x="239.56" y="105.05" width="5.52" height="5.55" fill="#8cc5ff"/>
<rect x="244.38" y="105.05" width="5.52" height="5.55" fill="#96caff"/>
<rect x="249.20" y="105.05" width="5.52" height="5.55" fill="#a9d3ff"/>
<rect x="254.02" y="105.05" width="5.52" height="5.55" fill="#cfe7ff"/>
<rect x="258.84" y="105.05" width="5.52" height="5.55" fill="#cfe7ff"/>
<rect x="263.66" y="105.05" width="5.52" height="5.55" fill="#bcddff"/>
<rect x="268.48" y="105.05" width="5.52" height="5.55" fill="#c6e2ff"/>
<rect x="273.30" y="105.05" width="5.52" height="4.85" fill="#d9ecff"/>
<rect x="278.12" y="105.05" width="5.52" height="4.85" fill="#c6e2ff"/>
<rect x="282.94" y="105.05" width="5.52" height="5.55" fill="#bcddff"/>
<rect x="287.76" y="105.05" width="5.52" height="5.55" fill="#96caff"/>
<rect x="292.58" y="105.05" width="5.52" height="5.55" fill="#a9d3ff"/>
<rect x="297.40" y="105.05" width="5.52" height="5.55" fill="#f5faff"/>
<rect x="302.22" y="105.05" width="5.52" height="5.55" fill="#bcddff"/>
<rect x="307.04" y="105.05" width="4.82" height="4.85" fill="#bcddff"/>
<rect x="172.08" y="109.90" width="5.52" height="4.85" fill="#e2f0ff"/>
<rect x="176.90" y="109.90" width="4.82" height="4.85" fill="#cfe7ff"/>
<rect x="191.36" y="109.90" width="4.82" height="4.85" fill="#fbfdff"/>
<rect x="201.00" y="109.90" width="5.52" height="4.85" fill="#fbfdff"/>
<rect x="205.82" y="109.90" width="4.82" height="4.85" fill="#c6e2ff"/>
<rect x="215.46" y="109.90" width="4.82" height="4.85" fill="#d9ecff"/>
<rect x="229.92" y="109.90" width="5.52" height="4.85" fill="#e2f0ff"/>
<rect x="234.74" y="109.90" width="5.52" height="4.85" fill="#a9d3ff"/>
<rect x="239.56" y="109.90" width="5.52" height="4.85" fill="#d9ecff"/>
<rect x="244.38" y="109.90" width="5.52" height="4.85" fill="#c6e2ff"/>
<rect x="249.20" y="109.90" width="5.52" height="4.85" fill="#a9d3ff"/>
<rect x="254.02" y="109.90" width="5.52" height="4.85" fill="#a9d3ff"/>
<rect x="258.84" y="109.90" width="5.52" height="4.85" fill="#a9d3ff"/>
<rect x="263.66" y="109.90" width="5.52" height="4.85" fill="#ecf5ff"/>
<rect x="268.48" y="109.90" width="4.82" height="4.85" fill="#b3d8ff"/>
<rect x="282.94" y="109.90" width="5.52" height="4.85" fill="#cfe7ff"/>
<rect x="287.76" y="109.90" width="5.52" height="4.85" fill="#c6e2ff"/>
<rect x="292.58" y="109.90" width="5.52" height="4.85" fill="#b3d8ff"/>
<rect x="297.40" y="109.90" width="5.52" height="4.85" fill="#a9d3ff"/>
<rect x="302.22" y="109.90" width="4.82" height="4.85" fill="#e2f0ff"/>
<rect x="42.07" y="124.40" width="4.83" height="5.50" fill="#87878d"/>
<rect x="51.73" y="124.40" width="5.53" height="5.50" fill="#b2b2b5"/>
<rect x="56.56" y="124.40" width="5.53" height="5.50" fill="#a1a1a5"/>
<rect x="61.39" y="124.40" width="5.53" height="5.50" fill="#a1a1a5"/>
<rect x="66.22" y="124.40" width="5.53" height="5.50" fill="#a1a1a5"/>
<rect x="71.05" y="124.40" width="5.53" height="5.50" fill="#7f7f84"/>
<rect x="75.88" y="124.40" width="5.53" height="5.50" fill="#eeeeef"/>
<rect x="80.71" y="124.40" width="5.53" height="5.50" fill="#909095"/>
<rect x="85.54" y="124.40" width="4.83" height="5.50" fill="#b2b2b5"/>
<rect x="100.03" y="124.40" width="5.53" height="5.50" fill="#f6f6f7"/>
<rect x="104.86" y="124.40" width="5.53" height="5.50" fill="#f6f6f7"/>
<rect x="109.69" y="124.40" width="5.53" height="5.50" fill="#f6f6f7"/>
<rect x="114.52" y="124.40" width="5.53" height="5.50" fill="#f6f6f7"/>
<rect x="119.35" y="124.40" width="5.53" height="5.50" fill="#ddddde"/>
<rect x="124.18" y="124.40" width="5.53" height="5.50" fill="#f6f6f7"/>
<rect x="129.01" y="124.40" width="4.83" height="5.50" fill="#f6f6f7"/>
<rect x="42.07" y="129.20" width="4.83" height="5.50" fill="#87878d"/>
<rect x="51.73" y="129.20" width="5.53" height="5.50" fill="#7f7f84"/>
<rect x="56.56" y="129.20" width="5.53" height="5.50" fill="#76767c"/>
<rect x="61.39" y="129.20" width="5.53" height="4.80" fill="#bbbbbe"/>
<rect x="66.22" y="129.20" width="5.53" height="5.50" fill="#a1a1a5"/>
<rect x="71.05" y="129.20" width="5.53" height="5.50" fill="#98989d"/>
<rect x="75.88" y="129.20" width="5.53" height="5.50" fill="#bbbbbe"/>
<rect x="80.71" y="129.20" width="5.53" height="5.50" fill="#76767c"/>
<rect x="85.54" y="129.20" width="4.83" height="5.50" fill="#ccccce"/>
<rect x="100.03" y="129.20" width="5.53" height="5.50" fill="#f6f6f7"/>
<rect x="104.86" y="129.20" width="5.53" height="5.50" fill="#f6f6f7"/>
<rect x="109.69" y="129.20" width="5.53" height="5.50" fill="#ccccce"/>
<rect x="114.52" y="129.20" width="5.53" height="5.50" fill="#e5e5e6"/>
<rect x="119.35" y="129.20" width="5.53" height="5.50" fill="#c3c3c6"/>
<rect x="124.18" y="129.20" width="5.53" height="5.50" fill="#f6f6f7"/>
<rect x="129.01" y="129.20" width="4.83" height="5.50" fill="#f6f6f7"/>
<rect x="42.07" y="134.00" width="4.83" height="4.80" fill="#ccccce"/>
<rect x="51.73" y="134.00" width="5.53" height="4.80" fill="#a1a1a5"/>
<rect x="56.56" y="134.00" width="4.83" height="4.80" fill="#7f7f84"/>
<rect x="66.22" y="134.00" width="5.53" height="4.80" fill="#87878d"/>
<rect x="71.05" y="134.00" width="5.53" height="4.80" fill="#aaaaad"/>
<rect x="75.88" y="134.00" width="5.53" height="4.80" fill="#aaaaad"/>
<rect x="80.71" y="134.00" width="5.53" height="4.80" fill="#eeeeef"/>
<rect x="85.54" y="134.00" width="5.53" height="4.80" fill="#e5e5e6"/>
<rect x="90.37" y="134.00" width="4.83" height="4.80" fill="#bbbbbe"/>
<rect x="100.03" y="134.00" width="5.53" height="4.80" fill="#fafafa"/>
<rect x="104.86" y="134.00" width="5.53" height="4.80" fill="#e5e5e6"/>
<rect x="109.69" y="134.00" width="5.53" height="4.80" fill="#ccccce"/>
<rect x="114.52" y="134.00" width="5.53" height="4.80" fill="#e5e5e6"/>
<rect x="119.35" y="134.00" width="5.53" height="4.80" fill="#ccccce"/>
<rect x="124.18" y="134.00" width="5.53" height="4.80" fill="#eeeeef"/>
<rect x="129.01" y="134.00" width="4.83" height="4.80" fill="#f3f3f4"/>
<rect x="104.86" y="138.80" width="4.83" height="2.50" fill="#fafafa"/>
<rect x="109.69" y="138.80" width="4.83" height="2.50" fill="#fafafa"/>
<rect x="114.52" y="138.80" width="4.83" height="2.50" fill="#fafafa"/>
<rect x="119.35" y="138.80" width="4.83" height="2.50" fill="#fafafa"/>
<rect x="124.18" y="138.80" width="4.83" height="2.50" fill="#fafafa"/>
<rect x="870.10" y="157.70" width="5.52" height="5.45" fill="#bcddff"/>
<rect x="874.92" y="157.70" width="5.52" height="5.45" fill="#e2f0ff"/>
<rect x="879.74" y="157.70" width="4.82" height="5.45" fill="#66b1ff"/>
<rect x="889.38" y="157.70" width="5.52" height="5.45" fill="#c6e2ff"/>
<rect x="894.20" y="157.70" width="4.82" height="5.45" fill="#f5faff"/>
<rect x="903.84" y="157.70" width="5.52" height="5.45" fill="#d9ecff"/>
<rect x="908.66" y="157.70" width="5.52" height="5.45" fill="#d9ecff"/>
<rect x="913.48" y="157.70" width="5.52" height="5.45" fill="#c6e2ff"/>
<rect x="918.30" y="157.70" width="4.82" height="5.45" fill="#d9ecff"/>
<rect x="870.10" y="162.45" width="5.52" height="4.75" fill="#e2f0ff"/>
<rect x="874.92" y="162.45" width="5.52" height="5.45" fill="#46a1ff"/>
<rect x="879.74" y="162.45" width="4.82" height="5.45" fill="#66b1ff"/>
<rect x="889.38" y="162.45" width="5.52" height="4.75" fill="#c6e2ff"/>
<rect x="894.20" y="162.45" width="5.52" height="5.45" fill="#f5faff"/>
<rect x="899.02" y="162.45" width="5.52" height="5.45" fill="#bcddff"/>
<rect x="903.84" y="162.45" width="5.52" height="5.45" fill="#a9d3ff"/>
<rect x="908.66" y="162.45" width="5.52" height="5.45" fill="#b3d8ff"/>
<rect x="913.48" y="162.45" width="5.52" height="4.75" fill="#b3d8ff"/>
<rect x="918.30" y="162.45" width="4.82" height="5.45" fill="#b3d8ff"/>
<rect x="874.92" y="167.20" width="5.52" height="4.75" fill="#d9ecff"/>
<rect x="879.74" y="167.20" width="4.82" height="4.75" fill="#66b1ff"/>
<rect x="894.20" y="167.20" width="5.52" height="4.75" fill="#d9ecff"/>
<rect x="899.02" y="167.20" width="5.52" height="4.75" fill="#d9ecff"/>
<rect x="903.84" y="167.20" width="5.52" height="4.75" fill="#cfe7ff"/>
<rect x="908.66" y="167.20" width="4.82" height="4.75" fill="#e2f0ff"/>
<rect x="918.30" y="167.20" width="5.52" height="4.75" fill="#8cc5ff"/>
<rect x="923.12" y="167.20" width="4.82" height="4.75" fill="#fbfdff"/>
<rect x="932.76" y="157.70" width="4.82" height="4.75" fill="#fafafa"/>
<rect x="932.76" y="162.45" width="4.82" height="4.75" fill="#f6f6f6"/>
<path d="M518.2 581.6 H569 Q571.3 581.6 571.3 584 V605.9 H518.2 Z" fill="#f4f6fa"/>
<path d="M444.8 582.8 H518.3 V605.65 H446.84 V600.9 H442.00 V591.45 H446.84 V586.7 H444.8 Z" fill="#409eff"/>
<rect x="456.31" y="586.70" width="4.77" height="5.44" fill="#6bb4ff"/>
<rect x="465.84" y="586.70" width="5.47" height="5.44" fill="#8bc4ff"/>
<rect x="470.61" y="586.70" width="4.77" height="5.44" fill="#80bfff"/>
<rect x="480.15" y="586.70" width="5.47" height="5.44" fill="#a0cfff"/>
<rect x="484.92" y="586.70" width="4.77" height="5.44" fill="#55a9ff"/>
<rect x="499.22" y="586.70" width="4.77" height="5.44" fill="#75b9ff"/>
<rect x="451.54" y="591.44" width="5.47" height="4.74" fill="#8bc4ff"/>
<rect x="456.31" y="591.44" width="5.47" height="5.44" fill="#6bb4ff"/>
<rect x="461.07" y="591.44" width="5.47" height="5.44" fill="#55a9ff"/>
<rect x="465.84" y="591.44" width="5.47" height="5.44" fill="#b6daff"/>
<rect x="470.61" y="591.44" width="5.47" height="5.44" fill="#80bfff"/>
<rect x="475.38" y="591.44" width="5.47" height="5.44" fill="#80bfff"/>
<rect x="480.15" y="591.44" width="5.47" height="5.44" fill="#b6daff"/>
<rect x="484.92" y="591.44" width="5.47" height="5.44" fill="#55a9ff"/>
<rect x="489.69" y="591.44" width="5.47" height="5.44" fill="#6bb4ff"/>
<rect x="494.46" y="591.44" width="5.47" height="5.44" fill="#75b9ff"/>
<rect x="499.22" y="591.44" width="5.47" height="5.44" fill="#75b9ff"/>
<rect x="503.99" y="591.44" width="4.77" height="5.44" fill="#60aeff"/>
<rect x="513.53" y="591.44" width="4.77" height="5.44" fill="#a0cfff"/>
<rect x="456.31" y="596.17" width="5.47" height="5.44" fill="#6bb4ff"/>
<rect x="461.07" y="596.17" width="5.47" height="4.74" fill="#a0cfff"/>
<rect x="465.84" y="596.17" width="5.47" height="4.74" fill="#a0cfff"/>
<rect x="470.61" y="596.17" width="5.47" height="4.74" fill="#60aeff"/>
<rect x="475.38" y="596.17" width="5.47" height="5.44" fill="#60aeff"/>
<rect x="480.15" y="596.17" width="5.47" height="5.44" fill="#60aeff"/>
<rect x="484.92" y="596.17" width="5.47" height="5.44" fill="#60aeff"/>
<rect x="489.69" y="596.17" width="5.47" height="5.44" fill="#80bfff"/>
<rect x="494.46" y="596.17" width="5.47" height="4.74" fill="#96c9ff"/>
<rect x="499.22" y="596.17" width="5.47" height="4.74" fill="#8bc4ff"/>
<rect x="503.99" y="596.17" width="4.77" height="5.44" fill="#60aeff"/>
<rect x="513.53" y="596.17" width="4.77" height="5.44" fill="#80bfff"/>
<rect x="456.31" y="600.91" width="4.77" height="4.74" fill="#6bb4ff"/>
<rect x="475.38" y="600.91" width="5.47" height="4.74" fill="#cbe5ff"/>
<rect x="480.15" y="600.91" width="5.47" height="4.74" fill="#8bc4ff"/>
<rect x="484.92" y="600.91" width="5.47" height="4.74" fill="#55a9ff"/>
<rect x="489.69" y="600.91" width="4.77" height="4.74" fill="#d6eaff"/>
<rect x="503.99" y="600.91" width="5.47" height="4.74" fill="#abd4ff"/>
<rect x="508.76" y="600.91" width="5.47" height="4.74" fill="#c0dfff"/>
<rect x="513.53" y="600.91" width="4.77" height="4.74" fill="#80bfff"/>
<rect x="447.40" y="584.70" width="3.60" height="1.60" fill="#79bbff"/>
<rect x="456.40" y="584.70" width="4.60" height="1.60" fill="#a0ceff"/>
<rect x="466.30" y="584.70" width="4.00" height="1.60" fill="#8cc5ff"/>
<rect x="485.60" y="584.70" width="4.00" height="1.60" fill="#5dadff"/>
<rect x="509.40" y="584.70" width="8.30" height="1.60" fill="#d9ecff"/>
<rect x="528.00" y="586.90" width="5.53" height="5.35" fill="#d4d6da"/>
<rect x="532.83" y="586.90" width="5.53" height="5.35" fill="#d4d6da"/>
<rect x="537.66" y="586.90" width="5.53" height="5.35" fill="#d4d6da"/>
<rect x="542.49" y="586.90" width="5.53" height="5.35" fill="#9c9da3"/>
<rect x="547.32" y="586.90" width="4.83" height="5.35" fill="#dcdee2"/>
<rect x="556.98" y="586.90" width="4.83" height="5.35" fill="#dcdee2"/>
<rect x="528.00" y="591.55" width="5.53" height="4.65" fill="#9c9da3"/>
<rect x="532.83" y="591.55" width="5.53" height="4.65" fill="#bcbdc2"/>
<rect x="537.66" y="591.55" width="5.53" height="4.65" fill="#d4d6da"/>
<rect x="542.49" y="591.55" width="5.53" height="5.35" fill="#bcbdc2"/>
<rect x="547.32" y="591.55" width="5.53" height="5.35" fill="#acadb3"/>
<rect x="552.15" y="591.55" width="5.53" height="4.65" fill="#acadb3"/>
<rect x="556.98" y="591.55" width="4.83" height="4.65" fill="#dcdee2"/>
<rect x="542.49" y="596.20" width="5.53" height="4.65" fill="#bcbdc2"/>
<rect x="547.32" y="596.20" width="4.83" height="4.65" fill="#bcbdc2"/>
<rect x="523.30" y="606.40" width="4.70" height="4.30" fill="#f9fafc"/>
<rect x="537.70" y="606.40" width="4.90" height="4.30" fill="#f9fafc"/>
<rect x="547.30" y="606.40" width="9.60" height="4.30" fill="#f9fafc"/>
<rect x="422.35" y="620.40" width="4.83" height="4.85" fill="#e3b4b6"/>
<rect x="422.35" y="625.25" width="4.83" height="4.85" fill="#8b1a1e"/>
<rect x="422.35" y="630.10" width="4.83" height="4.85" fill="#d49a9c"/>
<rect x="427.18" y="625.25" width="4.83" height="4.85" fill="#efd2d3"/>
<rect x="441.83" y="620.40" width="4.83" height="5.55" fill="#f6f6f7"/>
<rect x="456.32" y="620.40" width="4.83" height="5.55" fill="#f6f6f7"/>
<rect x="475.64" y="620.40" width="5.53" height="5.55" fill="#e5e5e6"/>
<rect x="480.47" y="620.40" width="5.53" height="5.55" fill="#e5e5e6"/>
<rect x="485.30" y="620.40" width="5.53" height="5.55" fill="#f6f6f7"/>
<rect x="490.13" y="620.40" width="4.83" height="5.55" fill="#d4d4d6"/>
<rect x="504.62" y="620.40" width="4.83" height="5.55" fill="#f6f6f7"/>
<rect x="514.28" y="620.40" width="4.83" height="5.55" fill="#ccccce"/>
<rect x="538.43" y="620.40" width="4.83" height="5.55" fill="#ccccce"/>
<rect x="548.09" y="620.40" width="5.53" height="5.55" fill="#f3f3f4"/>
<rect x="552.92" y="620.40" width="4.83" height="5.55" fill="#d4d4d6"/>
<rect x="567.41" y="620.40" width="4.83" height="5.55" fill="#ccccce"/>
<rect x="437.00" y="625.25" width="5.53" height="5.55" fill="#ddddde"/>
<rect x="441.83" y="625.25" width="5.53" height="4.85" fill="#c3c3c6"/>
<rect x="446.66" y="625.25" width="5.53" height="5.55" fill="#c3c3c6"/>
<rect x="451.49" y="625.25" width="5.53" height="5.55" fill="#aaaaad"/>
<rect x="456.32" y="625.25" width="5.53" height="5.55" fill="#ccccce"/>
<rect x="461.15" y="625.25" width="5.53" height="5.55" fill="#ccccce"/>
<rect x="465.98" y="625.25" width="5.53" height="5.55" fill="#ccccce"/>
<rect x="470.81" y="625.25" width="5.53" height="4.85" fill="#d4d4d6"/>
<rect x="475.64" y="625.25" width="5.53" height="5.55" fill="#b2b2b5"/>
<rect x="480.47" y="625.25" width="5.53" height="5.55" fill="#ddddde"/>
<rect x="485.30" y="625.25" width="5.53" height="5.55" fill="#bbbbbe"/>
<rect x="490.13" y="625.25" width="5.53" height="5.55" fill="#eeeeef"/>
<rect x="494.96" y="625.25" width="5.53" height="5.55" fill="#eeeeef"/>
<rect x="499.79" y="625.25" width="5.53" height="5.55" fill="#d4d4d6"/>
<rect x="504.62" y="625.25" width="5.53" height="4.85" fill="#ccccce"/>
<rect x="509.45" y="625.25" width="5.53" height="5.55" fill="#ccccce"/>
<rect x="514.28" y="625.25" width="5.53" height="5.55" fill="#c3c3c6"/>
<rect x="519.11" y="625.25" width="5.53" height="4.85" fill="#98989d"/>
<rect x="523.94" y="625.25" width="5.53" height="5.55" fill="#d4d4d6"/>
<rect x="528.77" y="625.25" width="5.53" height="5.55" fill="#bbbbbe"/>
<rect x="533.60" y="625.25" width="5.53" height="5.55" fill="#c3c3c6"/>
<rect x="538.43" y="625.25" width="4.83" height="5.55" fill="#c3c3c6"/>
<rect x="548.09" y="625.25" width="5.53" height="5.55" fill="#ddddde"/>
<rect x="552.92" y="625.25" width="5.53" height="5.55" fill="#eeeeef"/>
<rect x="557.75" y="625.25" width="5.53" height="5.55" fill="#c3c3c6"/>
<rect x="562.58" y="625.25" width="5.53" height="5.55" fill="#c3c3c6"/>
<rect x="567.41" y="625.25" width="5.53" height="5.55" fill="#ccccce"/>
<rect x="572.24" y="625.25" width="4.83" height="5.55" fill="#eeeeef"/>
<rect x="581.90" y="625.25" width="4.83" height="4.85" fill="#f8f8f8"/>
<rect x="437.00" y="630.10" width="4.83" height="4.85" fill="#f3f3f4"/>
<rect x="446.66" y="630.10" width="5.53" height="4.85" fill="#ddddde"/>
<rect x="451.49" y="630.10" width="5.53" height="4.85" fill="#bbbbbe"/>
<rect x="456.32" y="630.10" width="5.53" height="4.85" fill="#ccccce"/>
<rect x="461.15" y="630.10" width="5.53" height="4.85" fill="#e5e5e6"/>
<rect x="465.98" y="630.10" width="4.83" height="4.85" fill="#c3c3c6"/>
<rect x="475.64" y="630.10" width="5.53" height="4.85" fill="#c3c3c6"/>
<rect x="480.47" y="630.10" width="5.53" height="4.85" fill="#c3c3c6"/>
<rect x="485.30" y="630.10" width="5.53" height="4.85" fill="#f1f1f2"/>
<rect x="490.13" y="630.10" width="5.53" height="4.85" fill="#ddddde"/>
<rect x="494.96" y="630.10" width="5.53" height="4.85" fill="#c3c3c6"/>
<rect x="499.79" y="630.10" width="4.83" height="4.85" fill="#c3c3c6"/>
<rect x="509.45" y="630.10" width="5.53" height="4.85" fill="#bbbbbe"/>
<rect x="514.28" y="630.10" width="4.83" height="4.85" fill="#ddddde"/>
<rect x="523.94" y="630.10" width="5.53" height="4.85" fill="#e5e5e6"/>
<rect x="528.77" y="630.10" width="5.53" height="4.85" fill="#e5e5e6"/>
<rect x="533.60" y="630.10" width="5.53" height="4.85" fill="#a1a1a5"/>
<rect x="538.43" y="630.10" width="4.83" height="4.85" fill="#ddddde"/>
<rect x="548.09" y="630.10" width="5.53" height="4.85" fill="#e5e5e6"/>
<rect x="552.92" y="630.10" width="5.53" height="4.85" fill="#c3c3c6"/>
<rect x="557.75" y="630.10" width="5.53" height="4.85" fill="#ccccce"/>
<rect x="562.58" y="630.10" width="5.53" height="4.85" fill="#ccccce"/>
<rect x="567.41" y="630.10" width="5.53" height="4.85" fill="#ccccce"/>
<rect x="572.24" y="630.10" width="4.83" height="4.85" fill="#ddddde"/>
</svg>
<div class="xiang">详</div>
<div class="fab"></div>

<svg class="chart" width="1024" height="739" viewBox="0 0 1024 739">
<!-- card header icon -->
<g fill="none" stroke="#3fc58a" stroke-width="1.05">
<path d="M41.4 102.2 V101.1 Q41.4 100.4 42.1 100.4 H47.8 Q48.5 100.4 48.5 101.1 V108.4 Q48.5 109.1 47.8 109.1 H47.2"/>
<rect x="38.1" y="102.6" width="8.6" height="8.2" rx="1"/>
<path d="M40.3 105.4 H44.4 M40.3 108 H44.4" stroke-width="1"/>
</g>
<!-- download icon -->
<g fill="none" stroke="#409eff" stroke-width="1" stroke-linejoin="miter">
<path d="M947.1 159 V166" stroke="#5aabff"/>
<path d="M942.7 162 L947.1 166.3 L951.5 162" stroke-width="1.2"/>
<path d="M941.4 169.4 H952.7" stroke-width="1.05"/>
</g>
<!-- refresh icon -->
<g fill="none" stroke="#409eff" stroke-width="1">
<path d="M966.3 160.6 A5 5 0 0 1 974.5 164.6"/>
<path d="M964.5 164.2 A5 5 0 0 0 973.2 167.8"/>
</g>
<path d="M965.1 158.7 L965.1 162.4 L968.5 161.8 Z" fill="#409eff"/>
<path d="M974.4 165.9 L974.4 169.4 L971.1 166.6 Z" fill="#409eff"/>
<!-- slider -->
<defs><filter id="sh" x="-30%" y="-30%" width="160%" height="160%"><feGaussianBlur stdDeviation="1.2"/></filter></defs>
<rect x="209" y="551" width="600.5" height="15.4" fill="#c1cbe4"/>
<rect x="209" y="551" width="600.5" height="5" fill="#dfe4f2"/>
<rect x="507.3" y="552.2" width="0.9" height="2.7" fill="#fff"/><rect x="509.1" y="552.2" width="0.9" height="2.7" fill="#fff"/><rect x="510.9" y="552.2" width="0.9" height="2.7" fill="#fff"/>
<circle cx="209.4" cy="561" r="11.3" fill="#b7c4e2" opacity=".55" filter="url(#sh)"/>
<circle cx="809.5" cy="561" r="11.3" fill="#b7c4e2" opacity=".55" filter="url(#sh)"/>
<circle cx="209.4" cy="561" r="10.2" fill="#bfcbe6" stroke="#b5c2e0" stroke-width="0.8"/>
<circle cx="809.5" cy="561" r="10.2" fill="#bfcbe6" stroke="#b5c2e0" stroke-width="0.8"/>
<!-- floating button icon -->
<g fill="none" stroke="#34d89a" stroke-width="1.55">
<circle cx="0.7" cy="731.6" r="4.25"/>
<path d="M0.7 725.6 V727 M0.7 736.2 V737.7 M5.3 731.6 H6.7" stroke-width="1.6"/>
</g>
<circle cx="0.6" cy="731.7" r="0.9" fill="#2fd596"/>
</svg>
<div class="wm"><b>CSDN @</b>无言非影</div>
</body>
</html>
